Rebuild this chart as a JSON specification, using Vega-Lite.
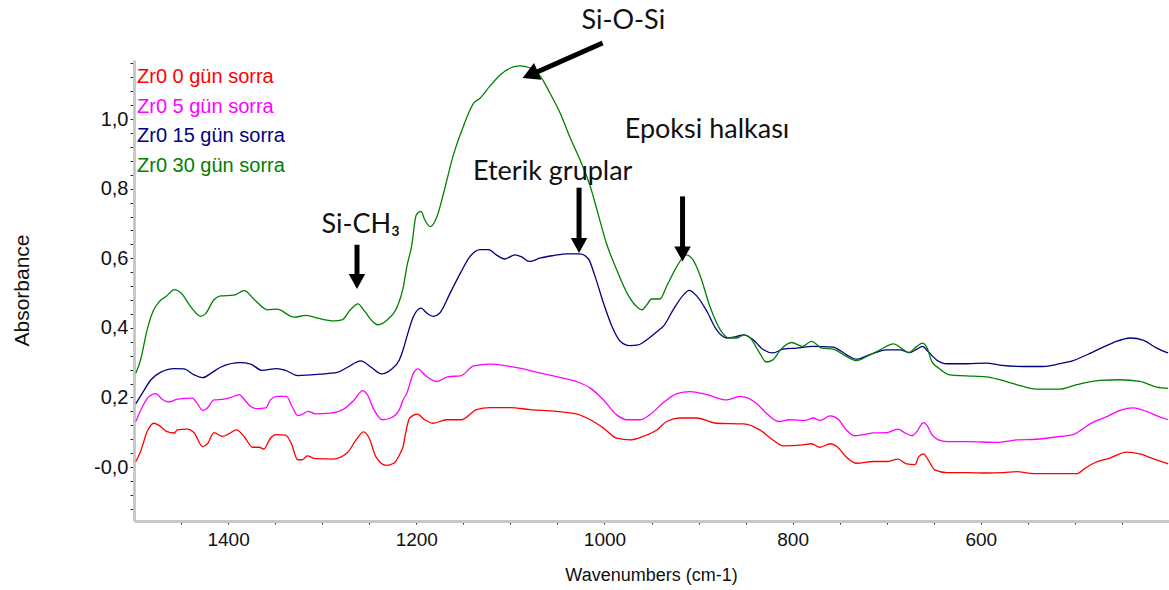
{
  "$schema": "https://vega.github.io/schema/vega-lite/v6.json",
  "width": 1035,
  "height": 461,
  "autosize": {"type": "none"},
  "padding": {"left": 134, "top": 60, "right": 0, "bottom": 69},
  "background": "white",
  "config": {"view": {"stroke": null}},
  "datasets": {
    "zr0_0": [
      {"w":1498,"a":0.016},{"w":1493,"a":0.045},{"w":1486,"a":0.102},{"w":1479,"a":0.126},{"w":1473,"a":0.119},{"w":1465,"a":0.102},{"w":1457,"a":0.098},{"w":1454,"a":0.107},{"w":1443,"a":0.109},{"w":1436,"a":0.098},{"w":1427,"a":0.059},{"w":1422,"a":0.067},{"w":1415,"a":0.099},{"w":1406,"a":0.088},{"w":1399,"a":0.096},{"w":1391,"a":0.107},{"w":1383,"a":0.088},{"w":1374,"a":0.057},{"w":1367,"a":0.057},{"w":1362,"a":0.052},{"w":1355,"a":0.083},{"w":1349,"a":0.093},{"w":1339,"a":0.092},{"w":1333,"a":0.069},{"w":1326,"a":0.021},{"w":1321,"a":0.021},{"w":1316,"a":0.032},{"w":1307,"a":0.024},{"w":1289,"a":0.023},{"w":1273,"a":0.042},{"w":1264,"a":0.078},{"w":1256,"a":0.101},{"w":1250,"a":0.083},{"w":1243,"a":0.030},{"w":1232,"a":0.005},{"w":1224,"a":0.011},{"w":1217,"a":0.040},{"w":1214,"a":0.059},{"w":1212,"a":0.088},{"w":1207,"a":0.141},{"w":1199,"a":0.152},{"w":1191,"a":0.136},{"w":1182,"a":0.126},{"w":1168,"a":0.136},{"w":1152,"a":0.136},{"w":1136,"a":0.165},{"w":1122,"a":0.171},{"w":1100,"a":0.171},{"w":1079,"a":0.165},{"w":1051,"a":0.160},{"w":1030,"a":0.153},{"w":1015,"a":0.136},{"w":1001,"a":0.112},{"w":987,"a":0.083},{"w":973,"a":0.078},{"w":959,"a":0.088},{"w":944,"a":0.107},{"w":934,"a":0.131},{"w":920,"a":0.141},{"w":902,"a":0.141},{"w":881,"a":0.126},{"w":852,"a":0.124},{"w":835,"a":0.107},{"w":821,"a":0.078},{"w":810,"a":0.061},{"w":789,"a":0.064},{"w":780,"a":0.067},{"w":771,"a":0.057},{"w":760,"a":0.067},{"w":753,"a":0.059},{"w":743,"a":0.029},{"w":732,"a":0.011},{"w":714,"a":0.016},{"w":700,"a":0.016},{"w":688,"a":0.023},{"w":679,"a":0.009},{"w":670,"a":0.007},{"w":666,"a":0.030},{"w":661,"a":0.038},{"w":656,"a":0.021},{"w":649,"a":-0.008},{"w":636,"a":-0.016},{"w":615,"a":-0.016},{"w":594,"a":-0.017},{"w":576,"a":-0.016},{"w":562,"a":-0.013},{"w":544,"a":-0.019},{"w":519,"a":-0.019},{"w":498,"a":-0.019},{"w":489,"a":-0.003},{"w":480,"a":0.011},{"w":463,"a":0.026},{"w":445,"a":0.043},{"w":431,"a":0.038},{"w":417,"a":0.024},{"w":401,"a":0.009}
    ],
    "zr0_5": [
      {"w":1498,"a":0.131},{"w":1491,"a":0.174},{"w":1484,"a":0.203},{"w":1477,"a":0.211},{"w":1470,"a":0.195},{"w":1463,"a":0.187},{"w":1454,"a":0.195},{"w":1438,"a":0.198},{"w":1433,"a":0.184},{"w":1427,"a":0.163},{"w":1422,"a":0.170},{"w":1415,"a":0.193},{"w":1404,"a":0.195},{"w":1397,"a":0.200},{"w":1388,"a":0.208},{"w":1383,"a":0.195},{"w":1376,"a":0.174},{"w":1369,"a":0.168},{"w":1360,"a":0.170},{"w":1355,"a":0.193},{"w":1348,"a":0.203},{"w":1338,"a":0.203},{"w":1332,"a":0.174},{"w":1326,"a":0.148},{"w":1321,"a":0.152},{"w":1315,"a":0.160},{"w":1307,"a":0.153},{"w":1291,"a":0.155},{"w":1277,"a":0.167},{"w":1266,"a":0.193},{"w":1257,"a":0.220},{"w":1252,"a":0.208},{"w":1245,"a":0.165},{"w":1236,"a":0.136},{"w":1227,"a":0.141},{"w":1218,"a":0.165},{"w":1214,"a":0.193},{"w":1210,"a":0.213},{"w":1203,"a":0.270},{"w":1198,"a":0.282},{"w":1191,"a":0.265},{"w":1178,"a":0.246},{"w":1166,"a":0.260},{"w":1153,"a":0.262},{"w":1139,"a":0.291},{"w":1122,"a":0.296},{"w":1104,"a":0.291},{"w":1086,"a":0.282},{"w":1068,"a":0.270},{"w":1051,"a":0.260},{"w":1030,"a":0.246},{"w":1015,"a":0.227},{"w":1001,"a":0.193},{"w":987,"a":0.150},{"w":976,"a":0.136},{"w":962,"a":0.136},{"w":952,"a":0.150},{"w":937,"a":0.186},{"w":923,"a":0.211},{"w":909,"a":0.217},{"w":891,"a":0.208},{"w":870,"a":0.193},{"w":856,"a":0.203},{"w":838,"a":0.182},{"w":828,"a":0.155},{"w":815,"a":0.131},{"w":803,"a":0.136},{"w":787,"a":0.134},{"w":778,"a":0.141},{"w":771,"a":0.134},{"w":760,"a":0.147},{"w":751,"a":0.136},{"w":743,"a":0.107},{"w":734,"a":0.090},{"w":714,"a":0.098},{"w":700,"a":0.099},{"w":688,"a":0.109},{"w":681,"a":0.099},{"w":673,"a":0.090},{"w":668,"a":0.102},{"w":661,"a":0.128},{"w":657,"a":0.119},{"w":652,"a":0.093},{"w":645,"a":0.078},{"w":636,"a":0.073},{"w":615,"a":0.073},{"w":583,"a":0.071},{"w":562,"a":0.078},{"w":541,"a":0.080},{"w":516,"a":0.088},{"w":502,"a":0.093},{"w":493,"a":0.107},{"w":484,"a":0.124},{"w":466,"a":0.145},{"w":452,"a":0.163},{"w":438,"a":0.170},{"w":424,"a":0.160},{"w":410,"a":0.144},{"w":401,"a":0.136}
    ],
    "zr0_15": [
      {"w":1498,"a":0.182},{"w":1491,"a":0.213},{"w":1482,"a":0.251},{"w":1472,"a":0.272},{"w":1457,"a":0.283},{"w":1447,"a":0.282},{"w":1436,"a":0.265},{"w":1427,"a":0.257},{"w":1418,"a":0.270},{"w":1408,"a":0.287},{"w":1387,"a":0.300},{"w":1376,"a":0.296},{"w":1364,"a":0.278},{"w":1348,"a":0.283},{"w":1339,"a":0.278},{"w":1326,"a":0.263},{"w":1302,"a":0.267},{"w":1284,"a":0.272},{"w":1273,"a":0.287},{"w":1259,"a":0.305},{"w":1248,"a":0.287},{"w":1237,"a":0.268},{"w":1227,"a":0.280},{"w":1218,"a":0.308},{"w":1214,"a":0.337},{"w":1210,"a":0.375},{"w":1203,"a":0.433},{"w":1195,"a":0.457},{"w":1189,"a":0.443},{"w":1182,"a":0.433},{"w":1175,"a":0.443},{"w":1164,"a":0.500},{"w":1153,"a":0.558},{"w":1143,"a":0.605},{"w":1132,"a":0.625},{"w":1123,"a":0.625},{"w":1115,"a":0.610},{"w":1106,"a":0.598},{"w":1095,"a":0.610},{"w":1088,"a":0.604},{"w":1080,"a":0.591},{"w":1068,"a":0.601},{"w":1054,"a":0.608},{"w":1040,"a":0.613},{"w":1026,"a":0.613},{"w":1017,"a":0.598},{"w":1010,"a":0.548},{"w":1001,"a":0.471},{"w":992,"a":0.404},{"w":983,"a":0.361},{"w":973,"a":0.349},{"w":964,"a":0.351},{"w":955,"a":0.366},{"w":944,"a":0.390},{"w":937,"a":0.406},{"w":927,"a":0.452},{"w":916,"a":0.495},{"w":910,"a":0.508},{"w":902,"a":0.492},{"w":891,"a":0.447},{"w":881,"a":0.395},{"w":870,"a":0.371},{"w":861,"a":0.374},{"w":852,"a":0.380},{"w":842,"a":0.366},{"w":831,"a":0.337},{"w":821,"a":0.328},{"w":810,"a":0.339},{"w":796,"a":0.342},{"w":778,"a":0.347},{"w":757,"a":0.345},{"w":743,"a":0.323},{"w":732,"a":0.310},{"w":718,"a":0.323},{"w":700,"a":0.337},{"w":686,"a":0.337},{"w":676,"a":0.329},{"w":668,"a":0.339},{"w":662,"a":0.347},{"w":656,"a":0.332},{"w":647,"a":0.308},{"w":636,"a":0.297},{"w":615,"a":0.297},{"w":594,"a":0.299},{"w":580,"a":0.293},{"w":555,"a":0.289},{"w":534,"a":0.289},{"w":516,"a":0.297},{"w":502,"a":0.306},{"w":480,"a":0.332},{"w":459,"a":0.358},{"w":441,"a":0.371},{"w":427,"a":0.364},{"w":413,"a":0.342},{"w":401,"a":0.328}
    ],
    "zr0_30": [
      {"w":1498,"a":0.270},{"w":1493,"a":0.308},{"w":1486,"a":0.395},{"w":1479,"a":0.452},{"w":1473,"a":0.476},{"w":1466,"a":0.490},{"w":1457,"a":0.510},{"w":1450,"a":0.500},{"w":1440,"a":0.462},{"w":1429,"a":0.433},{"w":1424,"a":0.441},{"w":1415,"a":0.481},{"w":1408,"a":0.492},{"w":1394,"a":0.494},{"w":1383,"a":0.507},{"w":1372,"a":0.481},{"w":1358,"a":0.452},{"w":1348,"a":0.454},{"w":1330,"a":0.431},{"w":1317,"a":0.436},{"w":1305,"a":0.428},{"w":1287,"a":0.420},{"w":1279,"a":0.423},{"w":1270,"a":0.452},{"w":1262,"a":0.469},{"w":1256,"a":0.452},{"w":1248,"a":0.423},{"w":1241,"a":0.409},{"w":1231,"a":0.423},{"w":1220,"a":0.462},{"w":1214,"a":0.514},{"w":1210,"a":0.577},{"w":1205,"a":0.634},{"w":1200,"a":0.725},{"w":1195,"a":0.735},{"w":1191,"a":0.711},{"w":1185,"a":0.691},{"w":1178,"a":0.720},{"w":1171,"a":0.787},{"w":1161,"a":0.893},{"w":1150,"a":0.979},{"w":1139,"a":1.046},{"w":1132,"a":1.061},{"w":1122,"a":1.094},{"w":1111,"a":1.127},{"w":1100,"a":1.147},{"w":1090,"a":1.153},{"w":1079,"a":1.147},{"w":1068,"a":1.123},{"w":1058,"a":1.075},{"w":1047,"a":1.017},{"w":1037,"a":0.950},{"w":1026,"a":0.883},{"w":1015,"a":0.806},{"w":1007,"a":0.730},{"w":998,"a":0.644},{"w":987,"a":0.567},{"w":976,"a":0.500},{"w":966,"a":0.462},{"w":960,"a":0.452},{"w":955,"a":0.466},{"w":950,"a":0.483},{"w":941,"a":0.483},{"w":934,"a":0.519},{"w":923,"a":0.577},{"w":913,"a":0.610},{"w":906,"a":0.596},{"w":898,"a":0.548},{"w":888,"a":0.462},{"w":877,"a":0.395},{"w":868,"a":0.371},{"w":859,"a":0.371},{"w":852,"a":0.380},{"w":845,"a":0.371},{"w":836,"a":0.332},{"w":828,"a":0.302},{"w":821,"a":0.308},{"w":813,"a":0.337},{"w":801,"a":0.358},{"w":790,"a":0.347},{"w":780,"a":0.361},{"w":769,"a":0.342},{"w":757,"a":0.339},{"w":743,"a":0.318},{"w":732,"a":0.306},{"w":721,"a":0.318},{"w":707,"a":0.337},{"w":693,"a":0.354},{"w":682,"a":0.337},{"w":677,"a":0.329},{"w":668,"a":0.347},{"w":662,"a":0.356},{"w":657,"a":0.342},{"w":652,"a":0.303},{"w":645,"a":0.285},{"w":633,"a":0.265},{"w":615,"a":0.262},{"w":594,"a":0.259},{"w":580,"a":0.251},{"w":562,"a":0.237},{"w":541,"a":0.224},{"w":516,"a":0.224},{"w":498,"a":0.237},{"w":473,"a":0.249},{"w":452,"a":0.251},{"w":431,"a":0.246},{"w":413,"a":0.230},{"w":401,"a":0.226}
    ],
    "band_labels": [
      {"w":980,"a":1.259,"t":"Si-O-Si"},
      {"w":891,"a":0.946,"t":"Epoksi halkası"},
      {"w":1055,"a":0.826,"t":"Eterik gruplar"},
      {"w":1259,"a":0.673,"t":"Si-CH₃"}
    ],
    "down_shafts": [
      {"w":1263,"a":0.639,"a2":0.545},
      {"w":1027,"a":0.803,"a2":0.648},
      {"w":917,"a":0.778,"a2":0.624}
    ],
    "down_tips": [
      {"w":1263,"a":0.512},
      {"w":1027,"a":0.615},
      {"w":917,"a":0.591}
    ],
    "siosi_shaft": [
      {"w":1002,"a":1.219,"w2":1077,"a2":1.129}
    ],
    "siosi_tip": [
      {"w":1087,"a":1.118}
    ]
  },
  "encoding": {
    "x": {
      "field": "w",
      "type": "quantitative",
      "scale": {"domain": [400, 1500], "reverse": true, "nice": false, "zero": false},
      "axis": {
        "title": "Wavenumbers (cm-1)",
        "values": [450,500,550,600,650,700,750,800,850,900,950,1000,1050,1100,1150,1200,1250,1300,1350,1400,1450],
        "format": "d",
        "labelExpr": "datum.value % 200 === 0 ? format(datum.value, 'd') : ''",
        "grid": false,
        "domainColor": "#c8c8c8",
        "domainWidth": 3,
        "tickColor": "#222222",
        "tickSize": 3,
        "tickWidth": 1,
        "labelFont": "Liberation Sans",
        "labelFontSize": 19,
        "labelColor": "#111111",
        "labelPadding": 6,
        "labelOverlap": false,
        "labelFlush": false,
        "titleFont": "Liberation Sans",
        "titleFontSize": 18,
        "titleFontWeight": "normal",
        "titleColor": "#111111",
        "titleX": 517,
        "titleY": 54,
        "titleAlign": "center",
        "titleBaseline": "middle"
      }
    },
    "y": {
      "field": "a",
      "type": "quantitative",
      "scale": {"domain": [-0.155, 1.17], "nice": false, "zero": false},
      "axis": {
        "title": "Absorbance",
        "values": [-0.12,-0.08,-0.04,0,0.04,0.08,0.12,0.16,0.2,0.24,0.28,0.32,0.36,0.4,0.44,0.48,0.52,0.56,0.6,0.64,0.68,0.72,0.76,0.8,0.84,0.88,0.92,0.96,1,1.04,1.08,1.12,1.16],
        "labelExpr": "abs(datum.value * 5 - round(datum.value * 5)) < 0.001 ? (datum.value === 0 ? '-0,0' : replace(format(datum.value, '.1f'), '.', ',')) : ''",
        "grid": false,
        "domainColor": "#c8c8c8",
        "domainWidth": 3,
        "tickColor": "#222222",
        "tickSize": 4,
        "tickWidth": 1,
        "labelFont": "Liberation Sans",
        "labelFontSize": 20,
        "labelColor": "#111111",
        "labelPadding": 2,
        "labelOverlap": false,
        "labelFlush": false,
        "titleFont": "Liberation Sans",
        "titleFontSize": 21,
        "titleFontWeight": "normal",
        "titleColor": "#111111",
        "titleAngle": 270,
        "titleX": -112,
        "titleY": 230,
        "titleAlign": "center",
        "titleBaseline": "middle"
      }
    }
  },
  "layer": [
    {
      "data": {"name": "zr0_0"},
      "mark": {"type": "line", "strokeWidth": 1.3, "interpolate": "monotone"},
      "encoding": {
        "color": {
          "datum": "Zr0 0 gün sorra",
          "type": "nominal",
          "scale": {
            "domain": ["Zr0 0 gün sorra", "Zr0 5 gün sorra", "Zr0 15 gün sorra", "Zr0 30 gün sorra"],
            "range": ["#ff0000", "#ff00ff", "#000080", "#008000"]
          },
          "legend": {
            "title": null,
            "orient": "none",
            "legendX": -17,
            "legendY": 7,
            "direction": "vertical",
            "padding": 0,
            "symbolType": "circle",
            "symbolSize": 0,
            "symbolStrokeWidth": 0,
            "symbolOpacity": 0,
            "labelOffset": 0,
            "labelFont": "Liberation Sans",
            "labelFontSize": 20,
            "labelLimit": 400,
            "rowPadding": 9.5,
            "encode": {"labels": {"update": {"fill": {"scale": "color", "field": "value"}}}}
          }
        }
      }
    },
    {
      "data": {"name": "zr0_5"},
      "mark": {"type": "line", "strokeWidth": 1.3, "interpolate": "monotone"},
      "encoding": {"color": {"datum": "Zr0 5 gün sorra", "type": "nominal"}}
    },
    {
      "data": {"name": "zr0_15"},
      "mark": {"type": "line", "strokeWidth": 1.3, "interpolate": "monotone"},
      "encoding": {"color": {"datum": "Zr0 15 gün sorra", "type": "nominal"}}
    },
    {
      "data": {"name": "zr0_30"},
      "mark": {"type": "line", "strokeWidth": 1.3, "interpolate": "monotone"},
      "encoding": {"color": {"datum": "Zr0 30 gün sorra", "type": "nominal"}}
    },
    {
      "data": {"name": "band_labels"},
      "mark": {"type": "text", "font": "Lato", "fontSize": 27, "color": "#111111", "align": "center", "baseline": "alphabetic"},
      "encoding": {"text": {"field": "t"}}
    },
    {
      "data": {"name": "down_shafts"},
      "mark": {"type": "rule", "strokeWidth": 5, "color": "#000000"},
      "encoding": {"y2": {"field": "a2"}}
    },
    {
      "data": {"name": "down_tips"},
      "mark": {"type": "point", "shape": "M0,0L-0.55,-1L0.55,-1Z", "size": 900, "filled": true, "opacity": 1, "color": "#000000", "strokeWidth": 0}
    },
    {
      "data": {"name": "siosi_shaft"},
      "mark": {"type": "rule", "strokeWidth": 5, "color": "#000000"},
      "encoding": {"x2": {"field": "w2"}, "y2": {"field": "a2"}}
    },
    {
      "data": {"name": "siosi_tip"},
      "mark": {"type": "point", "shape": "M0,0L-0.55,-1L0.55,-1Z", "size": 1100, "angle": 66, "filled": true, "opacity": 1, "color": "#000000", "strokeWidth": 0}
    }
  ]
}
